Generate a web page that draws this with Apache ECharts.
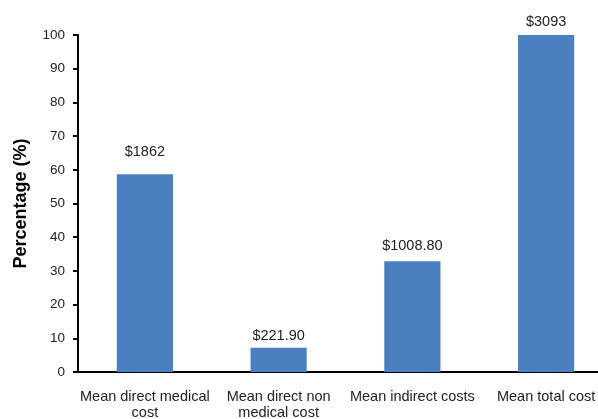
<!DOCTYPE html>
<html><head><meta charset="utf-8">
<script src="https://cdn.jsdelivr.net/npm/echarts@6/dist/echarts.min.js"></script>
<style>html,body{margin:0;padding:0;background:#fff}#c{width:598px;height:419px}</style>
</head><body><div id="c"></div>
<script>
const categories = ["Mean direct medical\ncost", "Mean direct non\nmedical cost", "Mean indirect costs", "Mean total cost"];
const percentages = [58.7, 7.2, 32.9, 100];
const costLabels = ["$1862", "$221.90", "$1008.80", "$3093"];
const yTicks = { min: 0, max: 100, interval: 10 };
// label gap above each bar (style only)
const labelGaps = [15, 4, 7.5, 5.5];

const chart = echarts.init(document.getElementById('c'));
chart.setOption({
  animation: false,
  grid: { left: 78, top: 35, height: 337, width: 535, containLabel: false, outerBoundsMode: 'none' },
  xAxis: {
    type: 'category', data: categories,
    axisLine: { lineStyle: { color: '#000', width: 2 } },
    axisTick: { show: false },
    axisLabel: { color: '#222', fontFamily: 'Liberation Sans, Arial', fontSize: 14.5, lineHeight: 16, margin: 17, interval: 0 }
  },
  yAxis: {
    type: 'value', min: yTicks.min, max: yTicks.max, interval: yTicks.interval,
    name: 'Percentage (%)', nameLocation: 'middle', nameGap: 48,
    nameTextStyle: { color: '#000', fontFamily: 'Liberation Sans, Arial', fontSize: 18, fontWeight: 'bold' },
    axisLine: { show: true, lineStyle: { color: '#000', width: 2 } },
    axisTick: { show: true, length: 5, lineStyle: { color: '#000', width: 2 } },
    axisLabel: { color: '#222', fontFamily: 'Liberation Sans, Arial', fontSize: 13.5, margin: 13 },
    splitLine: { show: false }
  },
  series: [{
    type: 'bar',
    data: percentages.map((v, i) => ({ value: v, label: { distance: labelGaps[i] } })),
    barWidth: '42%',
    itemStyle: { color: '#4a80bf' },
    label: {
      show: true, position: 'top', distance: 15,
      color: '#222', fontFamily: 'Liberation Sans, Arial', fontSize: 14.5,
      formatter: p => costLabels[p.dataIndex]
    }
  }]
});
</script></body></html>
